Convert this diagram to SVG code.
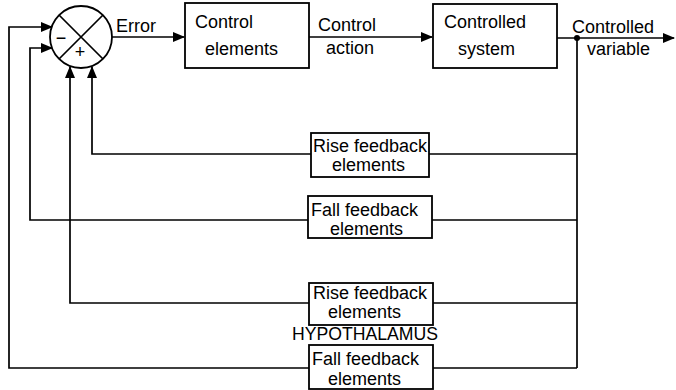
<svg xmlns="http://www.w3.org/2000/svg" width="676" height="390" viewBox="0 0 676 390">
<defs>
<style>
.ln{fill:none;stroke:#000;stroke-width:1.7}
.box{fill:#fff;stroke:#000;stroke-width:1.8}
text{font-family:"Liberation Sans",Arial,sans-serif;font-size:18px;fill:#000}
</style>
<marker id="ah" markerWidth="12" markerHeight="10" refX="11" refY="5" orient="auto" markerUnits="userSpaceOnUse">
<path d="M0,0 L12,5 L0,10 Z" fill="#000"/>
</marker>
</defs>
<rect width="676" height="390" fill="#fff"/>
<g id="connectors">
<path class="ln" d="M112,37 H184" marker-end="url(#ah)"/>
<path class="ln" d="M309,37 H432" marker-end="url(#ah)"/>
<path class="ln" d="M557,38 H674" marker-end="url(#ah)"/>
<circle cx="577" cy="38" r="3" fill="#000"/>
<path class="ln" d="M577,38 V368"/>
<path class="ln" d="M577,154 H92 V67" marker-end="url(#ah)"/>
<path class="ln" d="M577,220 H30 V48 H52" marker-end="url(#ah)"/>
<path class="ln" d="M577,303 H70 V67" marker-end="url(#ah)"/>
<path class="ln" d="M577,368 H9 V27 H52" marker-end="url(#ah)"/>
</g>
<g id="comparator">
<circle cx="81" cy="37" r="31" fill="#fff" stroke="#000" stroke-width="1.8"/>
<path class="ln" d="M59,15 L103,59 M103,15 L59,59"/>
<text x="61" y="44" text-anchor="middle" font-size="16">−</text>
<text x="80" y="58" text-anchor="middle" font-size="16">+</text>
</g>
<text x="116" y="32">Error</text>
<g id="control-elements">
<rect class="box" x="185" y="3" width="124" height="65"/>
<text x="195" y="28">Control</text>
<text x="205" y="55">elements</text>
</g>
<text x="318" y="31">Control</text>
<text x="326" y="54">action</text>
<g id="controlled-system">
<rect class="box" x="433" y="4" width="124" height="64"/>
<text x="444" y="28">Controlled</text>
<text x="458" y="55">system</text>
</g>
<text x="572" y="33">Controlled</text>
<text x="587" y="55">variable</text>
<g id="rise-feedback-1">
<rect class="box" x="311" y="133" width="118" height="44"/>
<text x="313" y="152">Rise feedback</text>
<text x="332" y="171">elements</text>
</g>
<g id="fall-feedback-1">
<rect class="box" x="308" y="196" width="124" height="42"/>
<text x="311" y="216">Fall feedback</text>
<text x="330" y="235">elements</text>
</g>
<g id="rise-feedback-2">
<rect class="box" x="309" y="283" width="124" height="42"/>
<text x="313" y="299">Rise feedback</text>
<text x="328" y="318">elements</text>
</g>
<text x="292" y="340" font-size="17" textLength="146" lengthAdjust="spacingAndGlyphs">HYPOTHALAMUS</text>
<g id="fall-feedback-2">
<rect class="box" x="309" y="345" width="124" height="44"/>
<text x="312" y="365">Fall feedback</text>
<text x="328" y="385">elements</text>
</g>
</svg>
